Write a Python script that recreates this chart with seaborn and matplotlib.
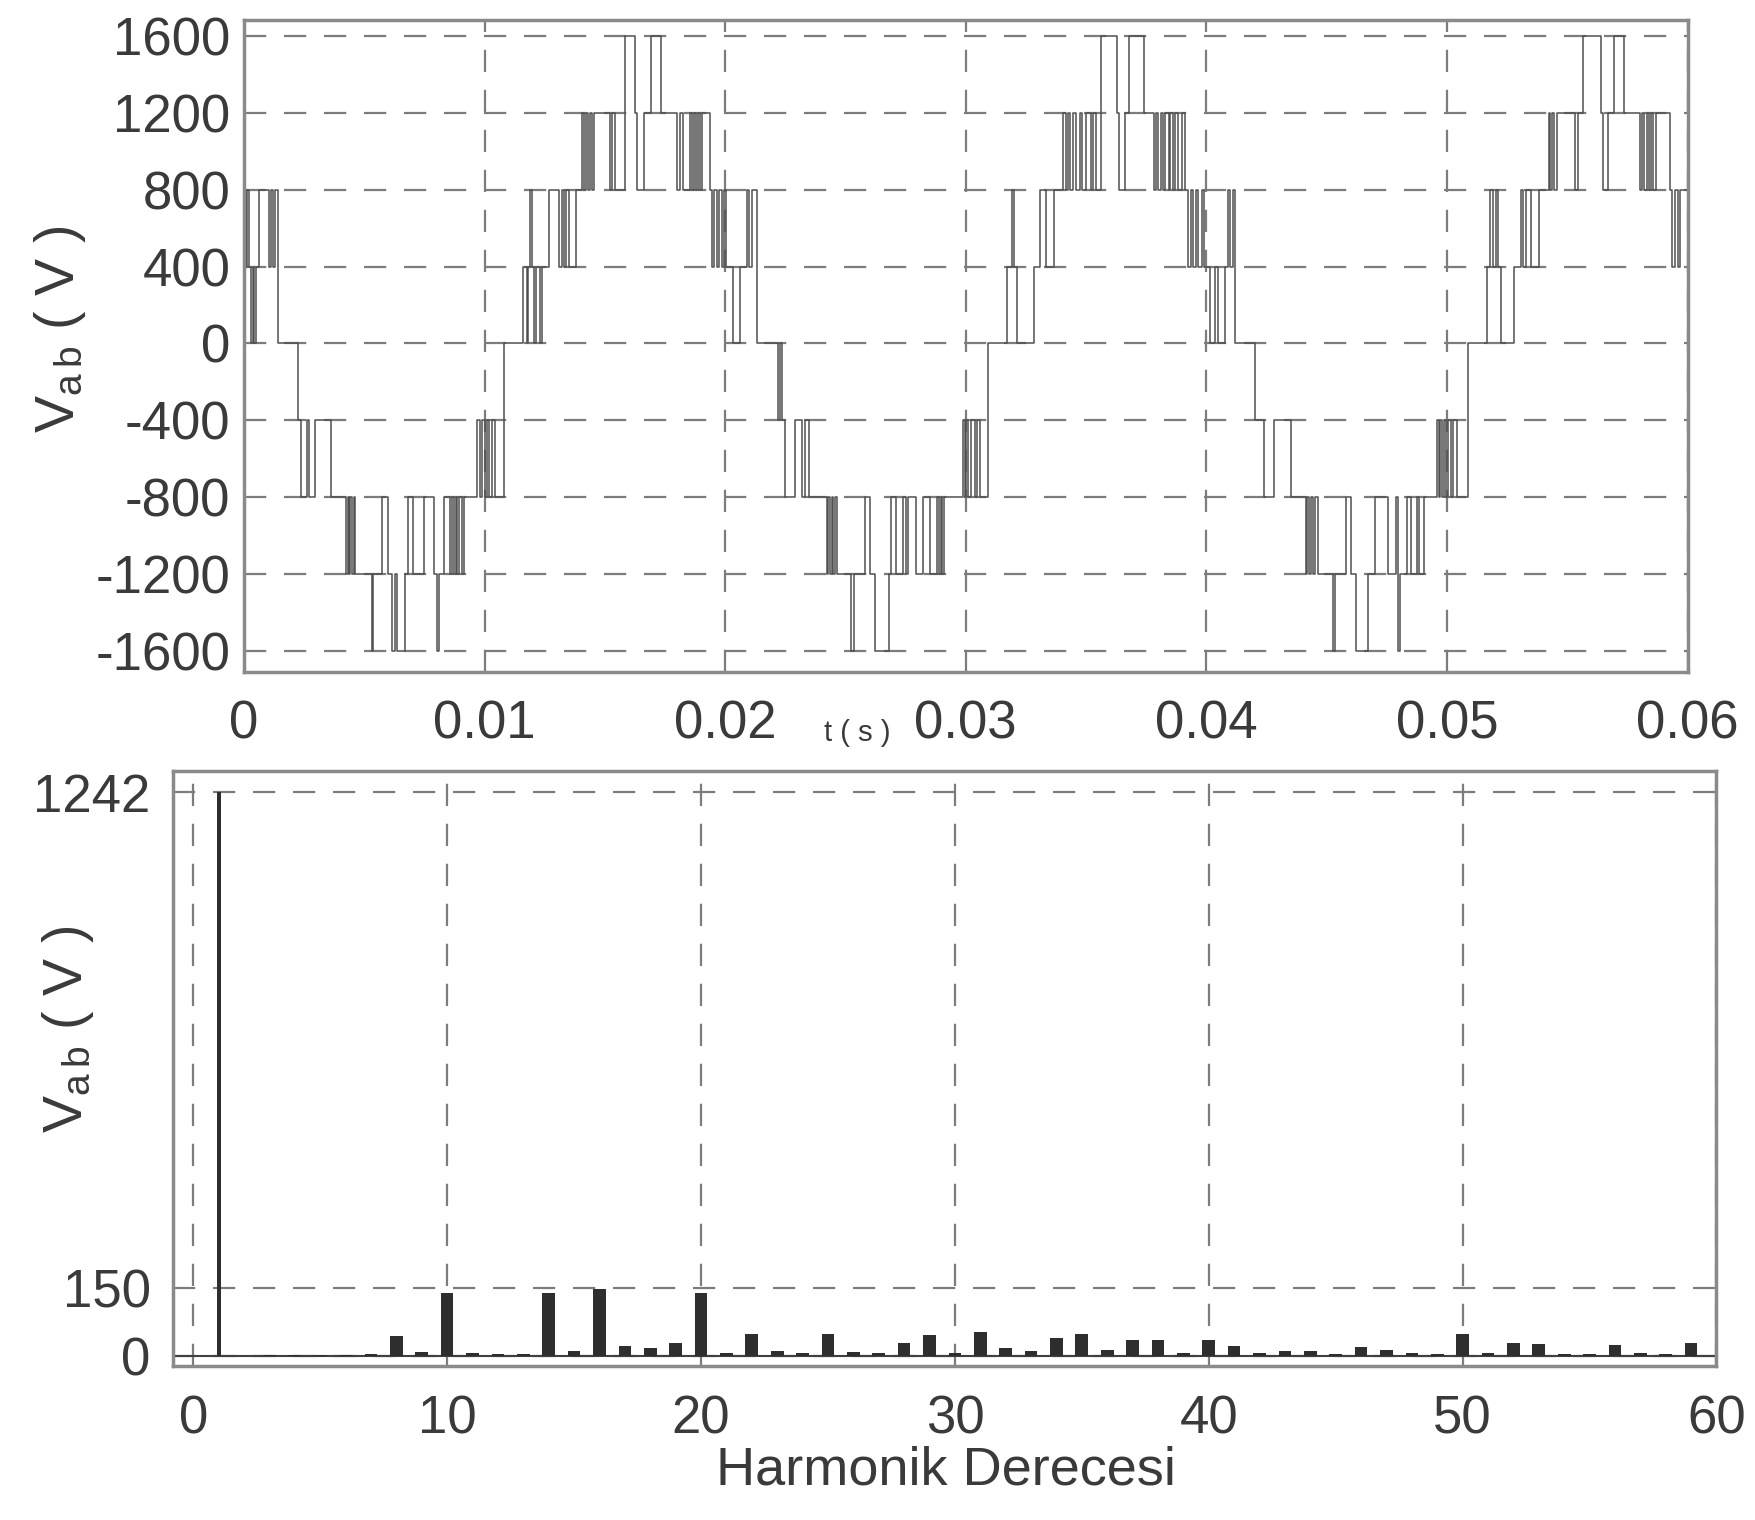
import numpy as np
import pandas as pd
import matplotlib
matplotlib.use('Agg')
import matplotlib.pyplot as plt
import seaborn as sns

# Vab dalga formu: anahtarlama anlari (ms) ve o andan itibaren gecerli seviye (V)
t_ms = [0.0, 0.07, 0.12, 0.2, 0.28, 0.35, 0.42, 0.49, 0.6, 1.05, 1.12, 1.2, 1.28, 1.39,
        2.23, 2.37, 2.6, 2.68, 2.93, 3.63,
        4.25, 4.3, 4.36, 4.42, 4.5, 4.56, 4.62, 5.3, 5.37,
        5.72, 6.0, 6.14, 6.28, 6.35, 6.7, 6.8, 7.04, 7.46, 7.9, 8.02, 8.1, 8.3, 8.58,
        8.65, 8.72, 8.8, 8.86, 8.95, 9.05, 9.15, 9.69,
        9.8, 9.88, 10.0, 10.1, 10.2, 10.3, 10.45, 10.79,
        11.61, 11.74, 11.82, 11.88, 11.95, 12.05, 12.15, 12.29, 12.4, 12.69,
        13.1, 13.2, 13.3, 13.4, 13.51, 13.78,
        14.05, 14.12, 14.2, 14.28, 14.36, 14.46, 14.55,
        15.21, 15.3, 15.41, 15.82, 16.23, 16.35, 16.64, 16.91, 17.32,
        18.0, 18.1, 18.25, 18.54, 18.62, 18.7, 18.78, 18.86, 18.95, 19.05, 19.36,
        19.45, 19.55, 19.65, 19.75, 19.85, 19.95, 20.05, 20.33,
        20.62, 20.9, 21.0, 21.1, 21.34,
        22.2, 22.27, 22.34, 22.49, 22.92, 23.2, 23.3, 23.49,
        24.21, 24.28, 24.35, 24.42, 24.5, 24.57, 24.64,
        25.22, 25.36, 25.79, 26.0, 26.22, 26.8, 26.9, 27.08, 27.37, 27.5, 27.6,
        27.95, 28.23, 28.5, 28.81, 28.88, 28.95, 29.02, 29.09,
        29.9, 29.95, 30.0, 30.1, 30.2, 30.37, 30.45, 30.57, 30.92,
        31.73, 31.9, 32.0, 32.14, 32.83, 33.1, 33.35, 33.65,
        34.06, 34.15, 34.25, 34.35, 34.47, 34.6, 34.74, 34.85, 35.0, 35.22, 35.3, 35.42,
        35.63, 36.3, 36.38, 36.6, 36.79, 37.4,
        37.81, 37.9, 38.0, 38.1, 38.2, 38.3, 38.43, 38.5, 38.6, 38.7, 38.8, 38.98, 39.1,
        39.25, 39.35, 39.45, 39.55, 39.65, 39.8, 39.9,
        40.0, 40.14, 40.35, 40.5, 40.77, 40.9, 41.0, 41.1, 41.19,
        42.03, 42.38, 42.8, 43.5,
        44.13, 44.2, 44.28, 44.36, 44.45, 44.52, 44.62,
        45.25, 45.35, 45.81, 46.0, 46.23, 46.72, 47.0, 47.56, 47.9, 47.98, 48.05, 48.33,
        48.5, 48.75, 48.85, 49.03,
        49.59, 49.65, 49.72, 49.8, 49.87, 49.95, 50.05, 50.15, 50.25, 50.42, 50.88,
        51.65, 51.8, 51.9, 52.05, 52.12, 52.26, 52.8, 53.07, 53.18, 53.28, 53.5, 53.82,
        54.23, 54.3, 54.38, 54.45, 54.57,
        55.32, 55.45, 55.66, 56.41, 56.5, 56.68, 56.95, 57.36,
        58.04, 58.1, 58.2, 58.3, 58.4, 58.5, 58.58, 58.7, 59.27, 59.35, 59.5, 59.6, 59.67, 60.0]

v_ab = [800, 400, 800, 400, 0, 400, 0, 400, 800, 400, 800, 400, 800, 0,
        -400, -800, -400, -800, -400, -800,
        -1200, -800, -1200, -800, -1200, -800, -1200, -1600, -1200,
        -800, -1200, -1600, -1200, -1600, -1200, -800, -1200, -800, -1200, -1600, -1200, -800, -1200,
        -800, -1200, -800, -1200, -800, -1200, -800, -400,
        -800, -400, -800, -400, -800, -400, -800, 0,
        400, 0, 400, 800, 400, 0, 400, 0, 400, 800,
        400, 800, 400, 800, 400, 800,
        1200, 800, 1200, 800, 1200, 800, 1200,
        800, 1200, 800, 1600, 1200, 800, 1200, 1600, 1200,
        800, 1200, 800, 1200, 800, 1200, 800, 1200, 800, 1200, 800,
        400, 800, 400, 800, 400, 800, 400, 0,
        400, 800, 400, 800, 0,
        -400, 0, -400, -800, -400, -800, -400, -800,
        -1200, -800, -1200, -800, -1200, -800, -1200,
        -1600, -1200, -800, -1200, -1600, -1200, -800, -1200, -800, -1200, -800,
        -1200, -800, -1200, -800, -1200, -800, -1200, -800,
        -400, -800, -400, -800, -400, -800, -400, -800, 0,
        400, 800, 400, 0, 400, 800, 400, 800,
        1200, 800, 1200, 800, 1200, 800, 1200, 800, 1200, 800, 1200, 800,
        1600, 1200, 800, 1200, 1600, 1200,
        800, 1200, 800, 1200, 800, 1200, 800, 1200, 800, 1200, 800, 1200, 800,
        400, 800, 400, 800, 400, 800, 400,
        400, 0, 400, 0, 400, 800, 400, 800, 0,
        -400, -800, -400, -800,
        -1200, -800, -1200, -800, -1200, -800, -1200,
        -1600, -1200, -800, -1200, -1600, -1200, -800, -1200, -800, -1600, -1200, -800,
        -1200, -800, -1200, -800,
        -400, -800, -400, -800, -400, -800, -400, -800, -400, -800, 0,
        400, 800, 400, 800, 400, 0, 400, 800, 400, 800, 400, 800,
        1200, 800, 1200, 800, 1200,
        800, 1200, 1600, 1200, 800, 1200, 1600, 1200,
        800, 1200, 800, 1200, 800, 1200, 800, 1200, 800, 400, 800, 400, 800, 800]

# Harmonik spektrumu
harm_order = [1, 3, 4, 5, 6, 7, 8, 9, 10, 11, 12, 13, 14, 15, 16, 17, 18, 19, 20,
              21, 22, 23, 24, 25, 26, 27, 28, 29, 30, 31, 32, 33, 34, 35, 36, 37, 38, 39, 40,
              41, 42, 43, 44, 45, 46, 47, 48, 49, 50, 51, 52, 53, 54, 55, 56, 57, 58, 59]
harm_amp = [1242, 3, 4, 3, 4, 5, 45, 10, 140, 8, 5, 5, 140, 12, 148, 22, 18, 30, 140,
            8, 50, 12, 8, 50, 10, 8, 30, 47, 8, 54, 18, 12, 40, 50, 15, 36, 36, 8, 37,
            22, 8, 12, 12, 5, 20, 14, 8, 5, 50, 8, 30, 28, 5, 5, 25, 8, 5, 30]

top_yticks = [-1600, -1200, -800, -400, 0, 400, 800, 1200, 1600]
top_ylabels = ['-1600', '-1200', '-800', '-400', '0', '400', '800', '1200', '1600']
top_xticks = [0, 0.01, 0.02, 0.03, 0.04, 0.05, 0.06]
top_xlabels = ['0', '0.01', '0.02', '0.03', '0.04', '0.05', '0.06']
bot_xticks = [0, 10, 20, 30, 40, 50, 60]
bot_yticks = [0, 150, 1242]

sns.set_style('white')
plt.rcParams['font.family'] = ['Liberation Sans', 'DejaVu Sans']
plt.rcParams['mathtext.fontset'] = 'custom'
plt.rcParams['mathtext.rm'] = 'Liberation Sans'

txt = '#3a3a3a'
gridc = '#7c7c7c'
dash = (0, (10, 8))

fig = plt.figure(figsize=(17.56, 15.2), dpi=100)
ax1 = fig.add_axes([0.139, 0.558, 0.822, 0.429])
ax2 = fig.add_axes([0.0985, 0.101, 0.879, 0.392])

# ust grafik: dalga formu
wave = pd.DataFrame({'t': np.array(t_ms) / 1000.0, 'v': v_ab})
sns.lineplot(data=wave, x='t', y='v', drawstyle='steps-post', estimator=None,
             sort=False, color='#505050', linewidth=1.1, ax=ax1)
ax1.set_xlim(0, 0.06)
ax1.set_ylim(-1710, 1685)
ax1.set_xticks(top_xticks)
ax1.set_xticklabels(top_xlabels)
ax1.set_yticks(top_yticks)
ax1.set_yticklabels(top_ylabels)
ax1.set_xlabel('t ( s )', fontsize=21, color=txt)
ax1.xaxis.set_label_coords(0.425, -0.072)
ax1.set_ylabel(r'$\mathregular{V_{a\,b}}$ ( V )', fontsize=40, color=txt)
ax1.yaxis.set_label_coords(-0.108, 0.525)
ax1.tick_params(axis='x', pad=20)
ax1.tick_params(axis='y', pad=10)

# alt grafik: harmonik spektrumu
widths = [0.15] + [0.5] * (len(harm_order) - 1)
ax2.bar(harm_order, harm_amp, width=widths, color='#2e2e2e', edgecolor='none', zorder=3)
ax2.axhline(0, color='#404040', linewidth=1.5, zorder=2)
ax2.set_xlim(-0.8, 60)
ax2.set_ylim(-22, 1290)
ax2.set_xticks(bot_xticks)
ax2.set_yticks(bot_yticks)
ax2.set_xlabel('Harmonik Derecesi', fontsize=39, color=txt)
ax2.xaxis.set_label_coords(0.501, -0.133)
ax2.set_ylabel(r'$\mathregular{V_{a\,b}}$ ( V )', fontsize=40, color=txt)
ax2.yaxis.set_label_coords(-0.050, 0.565)
ax2.tick_params(axis='x', pad=20)
ax2.tick_params(axis='y', pad=16)

for ax in (ax1, ax2):
    ax.grid(True, linestyle=dash, color=gridc, linewidth=1.6)
    ax.set_axisbelow(True)
    ax.tick_params(direction='in', length=8, width=1.5, color='#666666',
                   labelsize=38, labelcolor=txt)
    for s in ax.spines.values():
        s.set_color('#8a8a8a')
        s.set_linewidth(2.5)

fig.savefig('out.png', dpi=100, facecolor='white')
